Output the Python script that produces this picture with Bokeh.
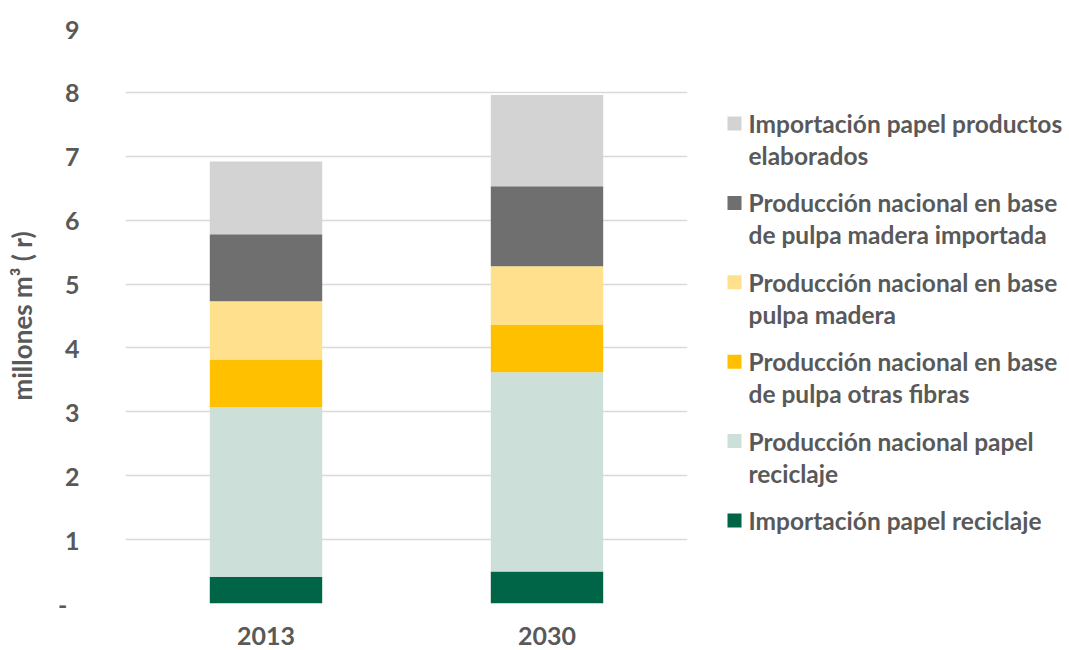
from bokeh.plotting import figure
from bokeh.models import ColumnDataSource, FixedTicker, Range1d, FactorRange
from bokeh.layouts import row
from bokeh.embed import file_html
from bokeh.resources import INLINE
from bokeh.core.properties import value

# ---- data ----
years = ["2013", "2030"]
imp_reciclaje = [0.42, 0.50]
prod_reciclaje = [2.65, 3.12]
prod_otras_fibras = [0.74, 0.74]
prod_pulpa_madera = [0.92, 0.92]
prod_pulpa_importada = [1.05, 1.25]
imp_elaborados = [1.14, 1.43]

series_keys = ["imp_reciclaje", "prod_reciclaje", "prod_otras_fibras",
               "prod_pulpa_madera", "prod_pulpa_importada", "imp_elaborados"]
series_labels = [
    "Importación papel reciclaje",
    "Producción nacional papel\nreciclaje",
    "Producción nacional en base\nde pulpa otras fibras",
    "Producción nacional en base\npulpa madera",
    "Producción nacional en base\nde pulpa madera importada",
    "Importación papel productos\nelaborados",
]
colors = ["#006446", "#CCE0D9", "#FFC000", "#FFE08C", "#6F6F6F", "#D3D3D3"]
y_ticks = [0, 1, 2, 3, 4, 5, 6, 7, 8, 9]

FONT = "Lato"
TXT = "#595959"
TOP, BOTTOM = 28, 47
H = 650

source = ColumnDataSource(dict(
    year=years,
    imp_reciclaje=imp_reciclaje,
    prod_reciclaje=prod_reciclaje,
    prod_otras_fibras=prod_otras_fibras,
    prod_pulpa_madera=prod_pulpa_madera,
    prod_pulpa_importada=prod_pulpa_importada,
    imp_elaborados=imp_elaborados,
))

p = figure(width=692, height=H, x_range=FactorRange(*years, range_padding=0),
           y_range=Range1d(0, 9), output_backend="svg", toolbar_location=None,
           min_border_left=125, min_border_right=5, min_border_top=TOP,
           min_border_bottom=BOTTOM)
p.vbar_stack(series_keys, x="year", width=0.4, color=colors, source=source,
             line_color=None)

p.outline_line_color = None
p.xgrid.grid_line_color = None
p.ygrid.grid_line_color = "#D9D9D9"
p.ygrid.grid_line_width = 1.5

p.yaxis.ticker = FixedTicker(ticks=y_ticks)
p.yaxis.major_label_overrides = {0: "-\u00a0\u00a0"}
for ax in (p.xaxis, p.yaxis):
    ax.axis_line_color = None
    ax.major_tick_line_color = None
    ax.minor_tick_line_color = None
    ax.major_tick_out = 0
    ax.major_tick_in = 0
    ax.major_label_text_font = FONT
    ax.major_label_text_font_style = "bold"
    ax.major_label_text_font_size = "25px"
    ax.major_label_text_color = TXT
p.yaxis.major_label_standoff = 46
p.xaxis.major_label_standoff = 23
p.yaxis.axis_label = "millones m³ ( r)"
p.yaxis.axis_label_text_font = FONT
p.yaxis.axis_label_text_font_style = "bold"
p.yaxis.axis_label_text_font_size = "26px"
p.yaxis.axis_label_text_color = TXT
p.yaxis.axis_label_standoff = 17

# ---- legend panel (data units = page pixels) ----
leg = figure(width=377, height=H, x_range=Range1d(0, 377),
             y_range=Range1d(H - BOTTOM, TOP),
             output_backend="svg", toolbar_location=None,
             min_border_left=0, min_border_right=0,
             min_border_top=TOP, min_border_bottom=BOTTOM)
leg.axis.visible = False
leg.grid.visible = False
leg.outline_line_color = None

order = list(range(len(series_labels)))[::-1]
sq_x, sq_y, sq_c = [], [], []
tx, ty, tt = [], [], []
for row_i, si in enumerate(order):
    y0 = 123 + row_i * 79.4
    sq_x.append(42)
    sq_y.append(y0)
    sq_c.append(colors[si])
    for j, line in enumerate(series_labels[si].split("\n")):
        tx.append(56)
        ty.append(y0 + j * 32)
        tt.append(line)
leg.rect(x=sq_x, y=sq_y, width=14, height=14, width_units="screen",
         height_units="screen", color=sq_c, line_color=None)
leg.text(x=tx, y=ty, text=tt, text_font=value(FONT), text_font_style="bold",
         text_font_size="24.5px", text_color=TXT, text_baseline="middle",
         text_align="left")

layout = row(p, leg, spacing=0)
open("out.html", "w").write(file_html(layout, INLINE))
